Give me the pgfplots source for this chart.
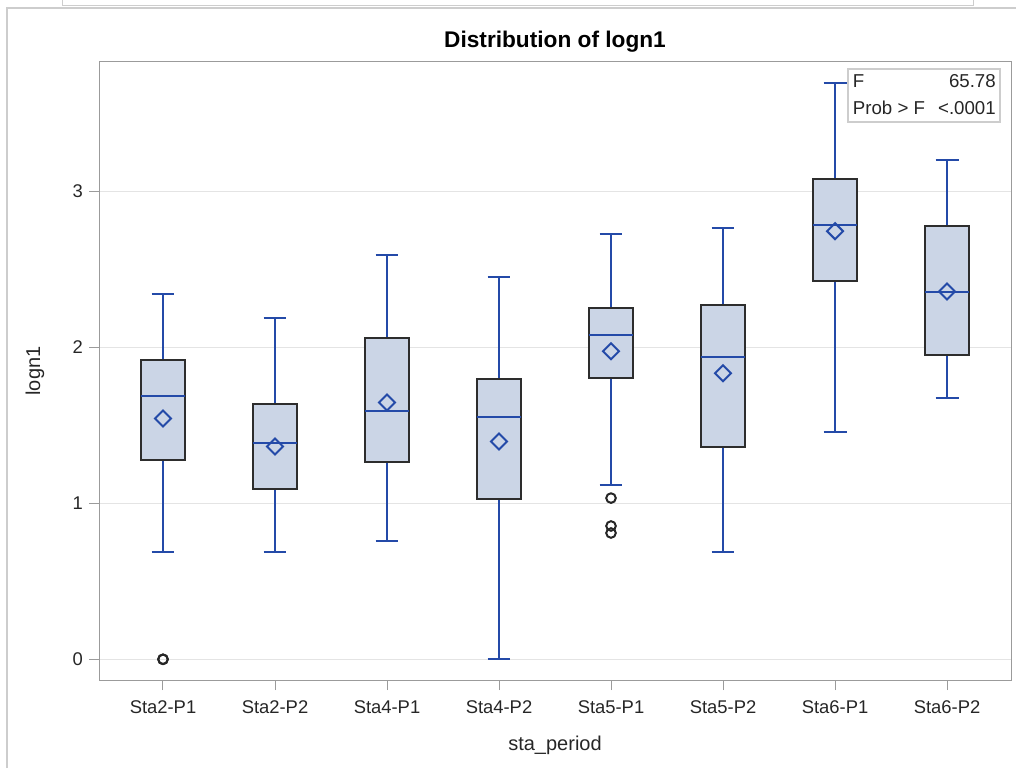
\documentclass[border=0pt]{standalone}
\usepackage{fontspec}
\setmainfont{Liberation Sans}
\usepackage{pgfplots}
\pgfplotsset{compat=1.18}
\usepgfplotslibrary{statistics}
\definecolor{boxfill}{RGB}{203,213,230}
\definecolor{boxedge}{RGB}{45,45,45}
\definecolor{sasblue}{RGB}{36,74,168}
\definecolor{gridgray}{RGB}{228,228,228}
\definecolor{axisgray}{RGB}{155,155,155}
\definecolor{framegray}{RGB}{205,205,205}
\pgfdeclareplotmark{sasdiamond}{%
  \pgfpathmoveto{\pgfqpoint{0pt}{\pgfplotmarksize}}%
  \pgfpathlineto{\pgfqpoint{\pgfplotmarksize}{0pt}}%
  \pgfpathlineto{\pgfqpoint{0pt}{-\pgfplotmarksize}}%
  \pgfpathlineto{\pgfqpoint{-\pgfplotmarksize}{0pt}}%
  \pgfpathclose
  \pgfusepathqstroke
}
\pgfplotsset{sasbox/.style={draw=sasblue, line width=1.5pt, solid}}
\begin{document}
\begin{tikzpicture}
\path[use as bounding box] (0,0) rectangle (762pt,576pt);
% screenshot frame lines
\draw[framegray, line width=0.75pt] (46.5pt,576pt) -- (46.5pt,571.5pt) -- (729.75pt,571.5pt) -- (729.75pt,576pt);
\draw[framegray, line width=1pt] (5.25pt,0pt) -- (5.25pt,570pt) -- (762pt,570pt);
\begin{axis}[
  at={(74.25pt,66pt)}, anchor=south west,
  width=684pt, height=463.5pt, scale only axis,
  xmin=0.4286, xmax=8.5714,
  ymin=-0.1328, ymax=3.831,
  xtick={1,2,3,4,5,6,7,8},
  xticklabels={Sta2-P1,Sta2-P2,Sta4-P1,Sta4-P2,Sta5-P1,Sta5-P2,Sta6-P1,Sta6-P2},
  ytick={0,1,2,3},
  xtick pos=bottom, ytick pos=left,
  tick align=outside, major tick length=7.5pt,
  tick style={axisgray, line width=0.75pt},
  axis line style={axisgray, line width=0.75pt},
  ymajorgrids, grid style={gridgray, line width=0.75pt},
  /pgf/number format/assume math mode=true,
  ticklabel style={font=\fontsize{13.8}{16}\selectfont, text=black!85},
  xticklabel style={yshift=-4.5pt},
  yticklabel style={xshift=-1pt},
  xlabel={sta\_period}, ylabel={logn1},
  label style={font=\fontsize{15}{18}\selectfont, text=black!85},
  xlabel style={at={(axis description cs:0.5,-0.11327)}, anchor=base},
  ylabel style={at={(axis description cs:-0.07018,0.5)}, anchor=center},
  boxplot/draw direction=y,
  boxplot/box extend=0.4,
  boxplot/whisker extend=0.205,
  boxplot/every box/.style={draw=boxedge, fill=boxfill, line width=1.5pt},
  boxplot/every whisker/.style={draw=sasblue, line width=1.5pt},
  boxplot/every median/.style={draw=sasblue, line width=1.5pt},
  boxplot/every average/.style={/tikz/mark=sasdiamond, /tikz/mark size=6pt, draw=sasblue, line width=1.4pt},
  clip=false,
]
% Sta2-P1
\addplot[sasbox, boxplot prepared={draw position=1, lower whisker=0.686, lower quartile=1.28, median=1.69, upper quartile=1.917, upper whisker=2.34, average=1.545},
  mark=o, mark size=3.6pt, mark options={draw=black!85, line width=1.5pt}]
  table[row sep=\\, y index=0] {0\\0\\};
% Sta2-P2
\addplot[sasbox, boxplot prepared={draw position=2, lower whisker=0.686, lower quartile=1.09, median=1.385, upper quartile=1.64, upper whisker=2.186, average=1.365}]
  coordinates {};
% Sta4-P1
\addplot[sasbox, boxplot prepared={draw position=3, lower whisker=0.756, lower quartile=1.263, median=1.59, upper quartile=2.058, upper whisker=2.596, average=1.647}]
  coordinates {};
% Sta4-P2
\addplot[sasbox, boxplot prepared={draw position=4, lower whisker=0, lower quartile=1.026, median=1.551, upper quartile=1.795, upper whisker=2.455, average=1.397}]
  coordinates {};
% Sta5-P1
\addplot[sasbox, boxplot prepared={draw position=5, lower whisker=1.115, lower quartile=1.803, median=2.079, upper quartile=2.254, upper whisker=2.729, average=1.976},
  mark=o, mark size=3.6pt, mark options={draw=black!85, line width=1.5pt}]
  table[row sep=\\, y index=0] {1.034\\0.855\\0.81\\};
% Sta5-P2
\addplot[sasbox, boxplot prepared={draw position=6, lower whisker=0.686, lower quartile=1.361, median=1.938, upper quartile=2.274, upper whisker=2.767, average=1.835}]
  coordinates {};
% Sta6-P1
\addplot[sasbox, boxplot prepared={draw position=7, lower whisker=1.457, lower quartile=2.429, median=2.788, upper quartile=3.079, upper whisker=3.694, average=2.746}]
  coordinates {};
% Sta6-P2
\addplot[sasbox, boxplot prepared={draw position=8, lower whisker=1.673, lower quartile=1.949, median=2.359, upper quartile=2.776, upper whisker=3.205, average=2.359}]
  coordinates {};
\end{axis}
% title
\node[anchor=base, font=\bfseries\fontsize{17}{20}\selectfont] at (416.25pt,540pt) {Distribution of logn1};
% inset statistics box
\draw[framegray, fill=white, line width=0.9pt] (636pt,524.25pt) rectangle (750pt,484.5pt);
\begin{scope}[every node/.style={inner sep=0pt, font=\fontsize{14}{16}\selectfont, text=black!85}]
\node[anchor=base west] at (639.5pt,510pt) {F};
\node[anchor=base east] at (747pt,510pt) {65.78};
\node[anchor=base west] at (639.5pt,489.75pt) {Prob > F};
\node[anchor=base east] at (747pt,489.75pt) {<.0001};
\end{scope}
\end{tikzpicture}
\end{document}
